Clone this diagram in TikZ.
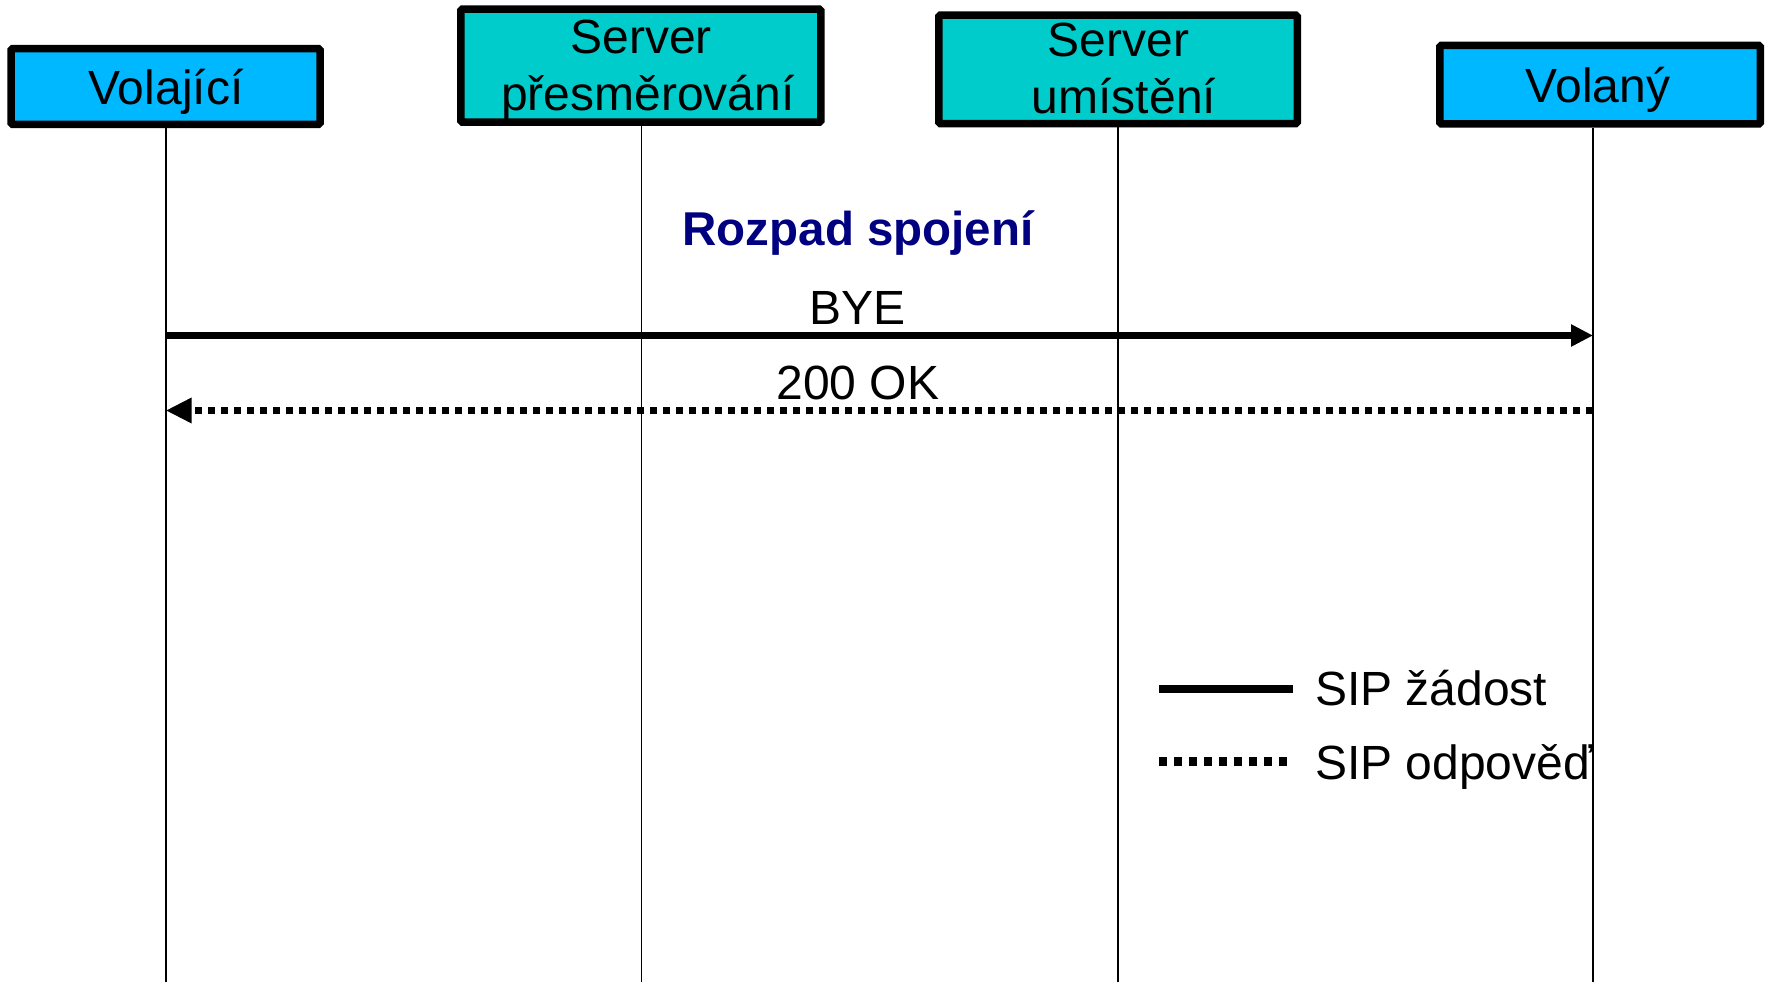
\documentclass[tikz,border=0pt]{standalone}
\usepackage{fontspec}
\setmainfont{Liberation Sans}
\usetikzlibrary{arrows.meta}
\definecolor{actorblue}{RGB}{0,184,255}
\definecolor{serverteal}{RGB}{0,204,204}
\definecolor{titlenavy}{RGB}{0,0,128}
\tikzset{
  boxbase/.style={draw=black, line width=7.5pt, inner sep=0pt, rounded corners=1.5pt},
  actorbox/.style={boxbase, fill=actorblue},
  serverbox/.style={boxbase, fill=serverteal},
  lbl/.style={inner sep=0pt, anchor=base, font=\fontsize{48}{56}\selectfont},
  lifeline/.style={line width=1.6pt, black},
  request/.style={line width=7.5pt, -{Triangle[length=22pt,width=21pt]}},
  response/.style={line width=7pt, dash pattern=on 7pt off 6pt, -{Triangle[length=26pt,width=24pt]}},
}
\begin{document}
\begin{tikzpicture}[x=1pt,y=-1pt]
\useasboundingbox (0,0) rectangle (1769,982);
% boxes
\node[actorbox, minimum width=309pt, minimum height=75.5pt] (vol) at (165.5,86.5) {};
\node[serverbox, minimum width=360pt, minimum height=113pt] (redir) at (640.8,65.7) {};
\node[serverbox, minimum width=358.5pt, minimum height=108.5pt] (loc) at (1118,69.4) {};
\node[actorbox, minimum width=320.5pt, minimum height=78.5pt] (volany) at (1600,84.7) {};
% box texts
\node[lbl] (volt) at (166,104) {Volající};
\node[lbl] (redirt1) at (641,53.3) {Server};
\node[lbl] (redirt2) at (648,110) {přesměrování};
\node[lbl] (loct1) at (1118.5,56.5) {Server};
\node[lbl] (loct2) at (1124,113) {umístění};
\node[lbl] (volanyt) at (1598,102.7) {Volaný};
% lifelines
\coordinate (l1) at (165.7,982);
\coordinate (l2) at (641.3,982);
\coordinate (l3) at (1118,982);
\coordinate (l4) at (1593,982);
\draw[lifeline] (vol.south -| l1) -- (l1);
\draw[lifeline] (redir.south -| l2) -- (l2);
\draw[lifeline] (loc.south -| l3) -- (l3);
\draw[lifeline] (volany.south -| l4) -- (l4);
% title
\node[lbl, font=\fontsize{47.5}{56}\selectfont\bfseries, text=titlenavy] (title) at (858,245) {Rozpad spojení};
% messages
\coordinate (byeA) at (165.7,335.5);
\coordinate (byeB) at (1593,335.5);
\coordinate (okA) at (1593,410.5);
\coordinate (okB) at (165.7,410.5);
\node[lbl] (byet) at (857.5,324) {BYE};
\draw[request] (byeA) -- (byeB);
\node[lbl] (okt) at (858,399) {200 OK};
\draw[response] (okA) -- (okB);
% legend
\coordinate (lgA) at (1159,689);
\coordinate (lgB) at (1293,689);
\coordinate (lgC) at (1159,761.5);
\coordinate (lgD) at (1293,761.5);
\draw[line width=7.7pt] (lgA) -- (lgB);
\draw[line width=8.5pt, dash pattern=on 8pt off 7pt] (lgC) -- (lgD);
\node[lbl, anchor=base west] (lgt1) at (1315,705) {SIP žádost};
\node[lbl, anchor=base west] (lgt2) at (1315,779) {SIP odpověď};
\end{tikzpicture}
\end{document}
